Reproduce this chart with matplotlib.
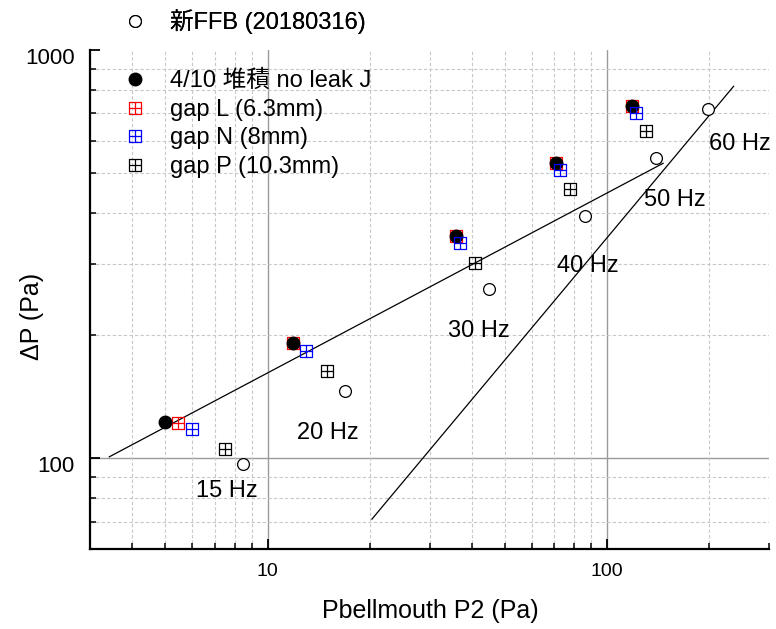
import numpy as np
import matplotlib
matplotlib.use('Agg')
import matplotlib.pyplot as plt
from matplotlib.path import Path
from matplotlib.transforms import ScaledTranslation
from matplotlib.ticker import LogLocator, NullFormatter, FixedLocator, FixedFormatter

plt.rcParams['font.family'] = ['Liberation Sans', 'Noto Sans CJK JP', 'DejaVu Sans']

# data
ffb_x = [8.46, 16.9, 45.0, 85.9, 139, 198]
ffb_y = [96.7, 146, 260, 393, 543, 716]

j_x = [5.0, 11.9, 35.9, 70.9, 118.5]
j_y = [122.7, 191.7, 350, 530, 730]

gapL_x = [5.46, 11.9, 35.9, 70.9, 118.5]
gapL_y = [122.0, 191.7, 350, 530, 730]

gapN_x = [5.99, 13.0, 37.0, 72.8, 122]
gapN_y = [118.2, 183, 336, 507, 701]

gapP_x = [7.47, 15.0, 40.9, 78, 130]
gapP_y = [105.2, 163.7, 301, 458, 634]

# two fit lines (end points)
fit1_x = [3.42, 146.3]
fit1_y = [100.9, 528]
fit2_x = [20.3, 236]
fit2_y = [71, 815]

hz_labels = ['15 Hz', '20 Hz', '30 Hz', '40 Hz', '50 Hz', '60 Hz']
hz_x = [7.58, 15.1, 42.0, 87.5, 158.9, 247]
hz_y = [83.2, 115.3, 205, 296, 429.7, 589]

# square with a cross inside
boxplus = Path([(-1, -1), (1, -1), (1, 1), (-1, 1), (-1, -1), (0, -1), (0, 1), (-1, 0), (1, 0)],
               [Path.MOVETO, Path.LINETO, Path.LINETO, Path.LINETO, Path.CLOSEPOLY,
                Path.MOVETO, Path.LINETO, Path.MOVETO, Path.LINETO])

fig = plt.figure(figsize=(7.76, 6.29), dpi=100)
ax = fig.add_axes([90/776, 1-549/629, 679/776, 499/629])
ax.set_xscale('log')
ax.set_yscale('log')
ax.set_xlim(3, 300)
ax.set_ylim(60, 1000)

# grid (no major line at the top 1000)
ax.grid(which='minor', color='#c8c8c8', linestyle=(0, (3, 2)), linewidth=0.8)
ax.grid(axis='x', which='major', color='#9a9a9a', linestyle='-', linewidth=1.0)
ax.axhline(100, color='#9a9a9a', lw=1.0, zorder=0.5)
ax.set_axisbelow(True)

ax.plot(fit1_x, fit1_y, color='black', lw=0.9)
ax.plot(fit2_x, fit2_y, color='black', lw=0.9)

h_ffb, = ax.plot(ffb_x, ffb_y, 'o', ms=8.5, mfc='white', mec='black', mew=0.9, ls='none',
                 label='新FFB (20180316)')
h_L, = ax.plot(gapL_x, gapL_y, marker=boxplus, ms=8.5, mfc='none', mec='red', mew=0.9, ls='none',
               label='gap L (6.3mm)')
h_J, = ax.plot(j_x, j_y, 'o', ms=9, color='black', ls='none', label='4/10 堆積 no leak J')
h_N, = ax.plot(gapN_x, gapN_y, marker=boxplus, ms=8.5, mfc='none', mec='blue', mew=0.9, ls='none',
               label='gap N (8mm)')
h_P, = ax.plot(gapP_x, gapP_y, marker=boxplus, ms=8.5, mfc='none', mec='black', mew=0.9, ls='none',
               label='gap P (10.3mm)')

for t, x, y in zip(hz_labels, hz_x, hz_y):
    ax.text(x, y, t, fontsize=17, ha='center', va='center')

# axes look
ax.spines['top'].set_visible(False)
ax.spines['right'].set_visible(False)
ax.spines['left'].set_linewidth(1.6)
ax.spines['bottom'].set_linewidth(1.6)

ax.xaxis.set_major_locator(FixedLocator([10, 100]))
ax.xaxis.set_major_formatter(FixedFormatter(['10', '100']))
ax.xaxis.set_minor_locator(LogLocator(base=10, subs=np.arange(2, 10), numticks=20))
ax.xaxis.set_minor_formatter(NullFormatter())
ax.yaxis.set_major_locator(FixedLocator([100, 1000]))
ax.yaxis.set_major_formatter(FixedFormatter(['100', '1000']))
ax.yaxis.set_minor_locator(LogLocator(base=10, subs=np.arange(2, 10), numticks=20))
ax.yaxis.set_minor_formatter(NullFormatter())

ax.tick_params(which='major', direction='in', length=7, width=1.3, labelsize=14, pad=10)
ax.tick_params(which='minor', direction='in', length=4.5, width=1.1)
ax.tick_params(axis='y', which='major', pad=11, labelsize=16)

# y tick labels sit a little below their ticks in the original
shift = ScaledTranslation(0, -0.055, fig.dpi_scale_trans)
for lab in ax.get_yticklabels():
    lab.set_transform(lab.get_transform() + shift)

fig.text(430/776, 1-611/629, 'Pbellmouth P2 (Pa)', fontsize=18, ha='center', va='center')
fig.text(32/776, 1-316/629, 'ΔP (Pa)', fontsize=18, ha='center', va='center', rotation=90)

leg1 = fig.legend(handles=[h_ffb], loc='center left', bbox_to_anchor=(123/776, 1-22/629),
                  frameon=False, fontsize=17, handlelength=1.0, handletextpad=1.0,
                  borderpad=0, borderaxespad=0)
leg2 = fig.legend(handles=[h_J, h_L, h_N, h_P], loc='center left', bbox_to_anchor=(123/776, 1-124/629),
                  frameon=False, fontsize=17, handlelength=1.0, handletextpad=1.0,
                  borderpad=0, borderaxespad=0, labelspacing=0.28)
fig.add_artist(leg1)

fig.savefig('out.png', dpi=100)
